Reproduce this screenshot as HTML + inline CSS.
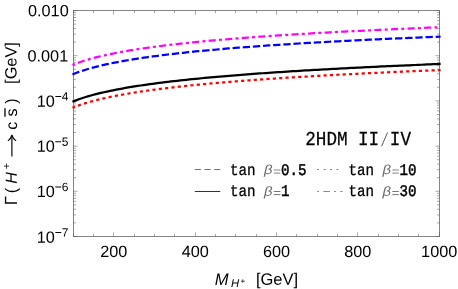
<!DOCTYPE html><html><head><meta charset="utf-8"><title>plot</title><style>html,body{margin:0;padding:0;background:#fff}svg{display:block;text-rendering:geometricPrecision;will-change:transform;transform:translateZ(0)}text{font-family:"Liberation Sans",sans-serif;fill:#000}.m{font-family:"Liberation Mono",monospace}.i{font-style:italic}</style></head><body>
<svg width="458" height="289" viewBox="0 0 458 289">
<rect width="458" height="289" fill="#fff"/>
<g stroke="#858585" stroke-width="1" fill="none">
<rect x="73.5" y="10.5" width="366.0" height="226.0"/>
<path stroke="#555" stroke-width="0.5" d="M73.50 236.5 v-2.6 M73.50 10.5 v2.6 M93.50 236.5 v-2.6 M93.50 10.5 v2.6 M113.50 236.5 v-4.2 M113.50 10.5 v4.2 M134.50 236.5 v-2.6 M134.50 10.5 v2.6 M154.50 236.5 v-2.6 M154.50 10.5 v2.6 M174.50 236.5 v-2.6 M174.50 10.5 v2.6 M195.50 236.5 v-4.2 M195.50 10.5 v4.2 M215.50 236.5 v-2.6 M215.50 10.5 v2.6 M235.50 236.5 v-2.6 M235.50 10.5 v2.6 M256.50 236.5 v-2.6 M256.50 10.5 v2.6 M276.50 236.5 v-4.2 M276.50 10.5 v4.2 M296.50 236.5 v-2.6 M296.50 10.5 v2.6 M317.50 236.5 v-2.6 M317.50 10.5 v2.6 M337.50 236.5 v-2.6 M337.50 10.5 v2.6 M357.50 236.5 v-4.2 M357.50 10.5 v4.2 M378.50 236.5 v-2.6 M378.50 10.5 v2.6 M398.50 236.5 v-2.6 M398.50 10.5 v2.6 M418.50 236.5 v-2.6 M418.50 10.5 v2.6 M439.50 236.5 v-4.2 M439.50 10.5 v4.2"/>
<path stroke="#555" stroke-width="0.5" d="M73.5 10.50 h4.0 M439.5 10.50 h-4.0 M73.5 42.09 h2.5 M439.5 42.09 h-2.5 M73.5 34.13 h2.5 M439.5 34.13 h-2.5 M73.5 28.49 h2.5 M439.5 28.49 h-2.5 M73.5 24.11 h2.5 M439.5 24.11 h-2.5 M73.5 20.53 h2.5 M439.5 20.53 h-2.5 M73.5 17.50 h2.5 M439.5 17.50 h-2.5 M73.5 14.88 h2.5 M439.5 14.88 h-2.5 M73.5 12.57 h2.5 M439.5 12.57 h-2.5 M73.5 55.70 h4.0 M439.5 55.70 h-4.0 M73.5 87.29 h2.5 M439.5 87.29 h-2.5 M73.5 79.33 h2.5 M439.5 79.33 h-2.5 M73.5 73.69 h2.5 M439.5 73.69 h-2.5 M73.5 69.31 h2.5 M439.5 69.31 h-2.5 M73.5 65.73 h2.5 M439.5 65.73 h-2.5 M73.5 62.70 h2.5 M439.5 62.70 h-2.5 M73.5 60.08 h2.5 M439.5 60.08 h-2.5 M73.5 57.77 h2.5 M439.5 57.77 h-2.5 M73.5 100.90 h4.0 M439.5 100.90 h-4.0 M73.5 132.49 h2.5 M439.5 132.49 h-2.5 M73.5 124.53 h2.5 M439.5 124.53 h-2.5 M73.5 118.89 h2.5 M439.5 118.89 h-2.5 M73.5 114.51 h2.5 M439.5 114.51 h-2.5 M73.5 110.93 h2.5 M439.5 110.93 h-2.5 M73.5 107.90 h2.5 M439.5 107.90 h-2.5 M73.5 105.28 h2.5 M439.5 105.28 h-2.5 M73.5 102.97 h2.5 M439.5 102.97 h-2.5 M73.5 146.10 h4.0 M439.5 146.10 h-4.0 M73.5 177.69 h2.5 M439.5 177.69 h-2.5 M73.5 169.73 h2.5 M439.5 169.73 h-2.5 M73.5 164.09 h2.5 M439.5 164.09 h-2.5 M73.5 159.71 h2.5 M439.5 159.71 h-2.5 M73.5 156.13 h2.5 M439.5 156.13 h-2.5 M73.5 153.10 h2.5 M439.5 153.10 h-2.5 M73.5 150.48 h2.5 M439.5 150.48 h-2.5 M73.5 148.17 h2.5 M439.5 148.17 h-2.5 M73.5 191.30 h4.0 M439.5 191.30 h-4.0 M73.5 222.89 h2.5 M439.5 222.89 h-2.5 M73.5 214.93 h2.5 M439.5 214.93 h-2.5 M73.5 209.29 h2.5 M439.5 209.29 h-2.5 M73.5 204.91 h2.5 M439.5 204.91 h-2.5 M73.5 201.33 h2.5 M439.5 201.33 h-2.5 M73.5 198.30 h2.5 M439.5 198.30 h-2.5 M73.5 195.68 h2.5 M439.5 195.68 h-2.5 M73.5 193.37 h2.5 M439.5 193.37 h-2.5 M73.5 236.50 h4.0 M439.5 236.50 h-4.0"/>
</g>
<g fill="none" stroke-width="2.25">
<path d="M73.50 64.55 L76.55 63.38 L79.60 62.29 L82.65 61.26 L85.70 60.30 L88.75 59.39 L91.80 58.53 L94.85 57.71 L97.90 56.94 L100.95 56.19 L104.00 55.48 L107.05 54.80 L110.10 54.15 L113.15 53.53 L116.20 52.92 L119.25 52.34 L122.30 51.78 L125.35 51.23 L128.40 50.71 L131.45 50.20 L134.50 49.71 L137.55 49.23 L140.60 48.76 L143.65 48.31 L146.70 47.87 L149.75 47.44 L152.80 47.03 L155.85 46.62 L158.90 46.22 L161.95 45.83 L165.00 45.46 L168.05 45.09 L171.10 44.73 L174.15 44.37 L177.20 44.03 L180.25 43.69 L183.30 43.36 L186.35 43.03 L189.40 42.71 L192.45 42.40 L195.50 42.09 L198.55 41.79 L201.60 41.50 L204.65 41.21 L207.70 40.92 L210.75 40.64 L213.80 40.37 L216.85 40.10 L219.90 39.83 L222.95 39.57 L226.00 39.31 L229.05 39.06 L232.10 38.81 L235.15 38.56 L238.20 38.32 L241.25 38.08 L244.30 37.84 L247.35 37.61 L250.40 37.38 L253.45 37.16 L256.50 36.93 L259.55 36.72 L262.60 36.50 L265.65 36.28 L268.70 36.07 L271.75 35.87 L274.80 35.66 L277.85 35.46 L280.90 35.26 L283.95 35.06 L287.00 34.86 L290.05 34.67 L293.10 34.48 L296.15 34.29 L299.20 34.10 L302.25 33.92 L305.30 33.74 L308.35 33.56 L311.40 33.38 L314.45 33.20 L317.50 33.03 L320.55 32.86 L323.60 32.68 L326.65 32.52 L329.70 32.35 L332.75 32.18 L335.80 32.02 L338.85 31.86 L341.90 31.70 L344.95 31.54 L348.00 31.38 L351.05 31.22 L354.10 31.07 L357.15 30.92 L360.20 30.76 L363.25 30.61 L366.30 30.46 L369.35 30.32 L372.40 30.17 L375.45 30.03 L378.50 29.88 L381.55 29.74 L384.60 29.60 L387.65 29.46 L390.70 29.32 L393.75 29.18 L396.80 29.05 L399.85 28.91 L402.90 28.78 L405.95 28.64 L409.00 28.51 L412.05 28.38 L415.10 28.25 L418.15 28.12 L421.20 28.00 L424.25 27.87 L427.30 27.74 L430.35 27.62 L433.40 27.49 L436.45 27.37 L439.50 27.25" stroke="#ff00ff" stroke-linecap="square" stroke-dasharray="0.8 5.45 4.9 5.457" stroke-dashoffset="0.4"/>
<path d="M73.50 73.95 L76.55 72.78 L79.60 71.69 L82.65 70.66 L85.70 69.70 L88.75 68.79 L91.80 67.93 L94.85 67.11 L97.90 66.34 L100.95 65.59 L104.00 64.88 L107.05 64.20 L110.10 63.55 L113.15 62.93 L116.20 62.32 L119.25 61.74 L122.30 61.18 L125.35 60.63 L128.40 60.11 L131.45 59.60 L134.50 59.11 L137.55 58.63 L140.60 58.16 L143.65 57.71 L146.70 57.27 L149.75 56.84 L152.80 56.43 L155.85 56.02 L158.90 55.62 L161.95 55.23 L165.00 54.86 L168.05 54.49 L171.10 54.13 L174.15 53.77 L177.20 53.43 L180.25 53.09 L183.30 52.76 L186.35 52.43 L189.40 52.11 L192.45 51.80 L195.50 51.49 L198.55 51.19 L201.60 50.90 L204.65 50.61 L207.70 50.32 L210.75 50.04 L213.80 49.77 L216.85 49.50 L219.90 49.23 L222.95 48.97 L226.00 48.71 L229.05 48.46 L232.10 48.21 L235.15 47.96 L238.20 47.72 L241.25 47.48 L244.30 47.24 L247.35 47.01 L250.40 46.78 L253.45 46.56 L256.50 46.33 L259.55 46.12 L262.60 45.90 L265.65 45.68 L268.70 45.47 L271.75 45.27 L274.80 45.06 L277.85 44.86 L280.90 44.66 L283.95 44.46 L287.00 44.26 L290.05 44.07 L293.10 43.88 L296.15 43.69 L299.20 43.50 L302.25 43.32 L305.30 43.14 L308.35 42.96 L311.40 42.78 L314.45 42.60 L317.50 42.43 L320.55 42.26 L323.60 42.08 L326.65 41.92 L329.70 41.75 L332.75 41.58 L335.80 41.42 L338.85 41.26 L341.90 41.10 L344.95 40.94 L348.00 40.78 L351.05 40.62 L354.10 40.47 L357.15 40.32 L360.20 40.16 L363.25 40.01 L366.30 39.86 L369.35 39.72 L372.40 39.57 L375.45 39.43 L378.50 39.28 L381.55 39.14 L384.60 39.00 L387.65 38.86 L390.70 38.72 L393.75 38.58 L396.80 38.45 L399.85 38.31 L402.90 38.18 L405.95 38.04 L409.00 37.91 L412.05 37.78 L415.10 37.65 L418.15 37.52 L421.20 37.40 L424.25 37.27 L427.30 37.14 L430.35 37.02 L433.40 36.89 L436.45 36.77 L439.50 36.65" stroke="#0000ff" stroke-linecap="square" stroke-dasharray="5.085 5.086"/>
<path d="M73.50 101.30 L76.55 100.13 L79.60 99.04 L82.65 98.01 L85.70 97.05 L88.75 96.14 L91.80 95.28 L94.85 94.46 L97.90 93.69 L100.95 92.94 L104.00 92.23 L107.05 91.55 L110.10 90.90 L113.15 90.28 L116.20 89.67 L119.25 89.09 L122.30 88.53 L125.35 87.98 L128.40 87.46 L131.45 86.95 L134.50 86.46 L137.55 85.98 L140.60 85.51 L143.65 85.06 L146.70 84.62 L149.75 84.19 L152.80 83.78 L155.85 83.37 L158.90 82.97 L161.95 82.58 L165.00 82.21 L168.05 81.84 L171.10 81.48 L174.15 81.12 L177.20 80.78 L180.25 80.44 L183.30 80.11 L186.35 79.78 L189.40 79.46 L192.45 79.15 L195.50 78.84 L198.55 78.54 L201.60 78.25 L204.65 77.96 L207.70 77.67 L210.75 77.39 L213.80 77.12 L216.85 76.85 L219.90 76.58 L222.95 76.32 L226.00 76.06 L229.05 75.81 L232.10 75.56 L235.15 75.31 L238.20 75.07 L241.25 74.83 L244.30 74.59 L247.35 74.36 L250.40 74.13 L253.45 73.91 L256.50 73.68 L259.55 73.47 L262.60 73.25 L265.65 73.03 L268.70 72.82 L271.75 72.62 L274.80 72.41 L277.85 72.21 L280.90 72.01 L283.95 71.81 L287.00 71.61 L290.05 71.42 L293.10 71.23 L296.15 71.04 L299.20 70.85 L302.25 70.67 L305.30 70.49 L308.35 70.31 L311.40 70.13 L314.45 69.95 L317.50 69.78 L320.55 69.61 L323.60 69.43 L326.65 69.27 L329.70 69.10 L332.75 68.93 L335.80 68.77 L338.85 68.61 L341.90 68.45 L344.95 68.29 L348.00 68.13 L351.05 67.97 L354.10 67.82 L357.15 67.67 L360.20 67.51 L363.25 67.36 L366.30 67.21 L369.35 67.07 L372.40 66.92 L375.45 66.78 L378.50 66.63 L381.55 66.49 L384.60 66.35 L387.65 66.21 L390.70 66.07 L393.75 65.93 L396.80 65.80 L399.85 65.66 L402.90 65.53 L405.95 65.39 L409.00 65.26 L412.05 65.13 L415.10 65.00 L418.15 64.87 L421.20 64.75 L424.25 64.62 L427.30 64.49 L430.35 64.37 L433.40 64.24 L436.45 64.12 L439.50 64.00" stroke="#000" stroke-linecap="square"/>
<path d="M73.50 107.40 L76.55 106.23 L79.60 105.14 L82.65 104.11 L85.70 103.15 L88.75 102.24 L91.80 101.38 L94.85 100.56 L97.90 99.79 L100.95 99.04 L104.00 98.33 L107.05 97.65 L110.10 97.00 L113.15 96.38 L116.20 95.77 L119.25 95.19 L122.30 94.63 L125.35 94.08 L128.40 93.56 L131.45 93.05 L134.50 92.56 L137.55 92.08 L140.60 91.61 L143.65 91.16 L146.70 90.72 L149.75 90.29 L152.80 89.88 L155.85 89.47 L158.90 89.07 L161.95 88.68 L165.00 88.31 L168.05 87.94 L171.10 87.58 L174.15 87.22 L177.20 86.88 L180.25 86.54 L183.30 86.21 L186.35 85.88 L189.40 85.56 L192.45 85.25 L195.50 84.94 L198.55 84.64 L201.60 84.35 L204.65 84.06 L207.70 83.77 L210.75 83.49 L213.80 83.22 L216.85 82.95 L219.90 82.68 L222.95 82.42 L226.00 82.16 L229.05 81.91 L232.10 81.66 L235.15 81.41 L238.20 81.17 L241.25 80.93 L244.30 80.69 L247.35 80.46 L250.40 80.23 L253.45 80.01 L256.50 79.78 L259.55 79.57 L262.60 79.35 L265.65 79.13 L268.70 78.92 L271.75 78.72 L274.80 78.51 L277.85 78.31 L280.90 78.11 L283.95 77.91 L287.00 77.71 L290.05 77.52 L293.10 77.33 L296.15 77.14 L299.20 76.95 L302.25 76.77 L305.30 76.59 L308.35 76.41 L311.40 76.23 L314.45 76.05 L317.50 75.88 L320.55 75.71 L323.60 75.53 L326.65 75.37 L329.70 75.20 L332.75 75.03 L335.80 74.87 L338.85 74.71 L341.90 74.55 L344.95 74.39 L348.00 74.23 L351.05 74.07 L354.10 73.92 L357.15 73.77 L360.20 73.61 L363.25 73.46 L366.30 73.31 L369.35 73.17 L372.40 73.02 L375.45 72.88 L378.50 72.73 L381.55 72.59 L384.60 72.45 L387.65 72.31 L390.70 72.17 L393.75 72.03 L396.80 71.90 L399.85 71.76 L402.90 71.63 L405.95 71.49 L409.00 71.36 L412.05 71.23 L415.10 71.10 L418.15 70.97 L421.20 70.85 L424.25 70.72 L427.30 70.59 L430.35 70.47 L433.40 70.34 L436.45 70.22 L439.50 70.10" stroke="#ff0000" stroke-linecap="square" stroke-dasharray="0.95 5.4097" stroke-dashoffset="0.475"/>
</g>
<g font-size="16.25" text-anchor="end">
<text x="68.7" y="16.30" transform="rotate(0.04 68.7 16.30)">0.010</text>
<text x="68.2" y="61.50" transform="rotate(0.04 68.7 61.50)">0.001</text>
<text x="68.4" y="106.70" transform="rotate(0.04 68.4 106.70)">10<tspan font-size="12" dy="-6.2">−4</tspan></text>
<text x="68.4" y="151.90" transform="rotate(0.04 68.4 151.90)">10<tspan font-size="12" dy="-6.2">−5</tspan></text>
<text x="68.4" y="197.10" transform="rotate(0.04 68.4 197.10)">10<tspan font-size="12" dy="-6.2">−6</tspan></text>
<text x="68.4" y="242.70" transform="rotate(0.04 68.4 242.70)">10<tspan font-size="12" dy="-6.2">−7</tspan></text>
</g>
<g font-size="16.25" text-anchor="middle">
<text x="113.87" y="257" transform="rotate(0.04 113.87 257)">200</text>
<text x="195.20" y="257" transform="rotate(0.04 195.20 257)">400</text>
<text x="276.53" y="257" transform="rotate(0.04 276.53 257)">600</text>
<text x="357.87" y="257" transform="rotate(0.04 357.87 257)">800</text>
<text x="439.20" y="257" transform="rotate(0.04 439.20 257)">1000</text>
</g>
<text class="i" font-size="16.6" x="214.8" y="285" transform="rotate(0.04 214.6 285)">M</text>
<text class="i" font-size="11.3" x="231" y="286.9" transform="rotate(0.04 231 286.8)">H</text>
<text font-size="8" x="240.6" y="283.8" transform="rotate(0.04 240.6 284.2)">+</text>
<text font-size="16.5" x="255.9" y="284.7" transform="rotate(0.04 255.9 285)">[GeV]</text>
<text font-size="17.6" transform="translate(17.10 204.90) rotate(-89.96) scale(0.93 1)">Γ</text>
<text font-size="16" transform="translate(16.40 193.20) rotate(-89.96)">(</text>
<text class="i" font-size="16" transform="translate(16.80 183.80) rotate(-89.96)">H</text>
<text font-size="10.6" transform="translate(9.90 169.20) rotate(-89.96)">+</text>
<path d="M11.9 156.6 V135.8" stroke="#000" stroke-width="1.15" fill="none"/>
<path d="M7.9 140.9 Q11 138.6 11.9 135 Q12.8 138.6 16.1 140.9" stroke="#000" stroke-width="1.05" fill="none"/>
<text font-size="16" transform="translate(17.00 129.70) rotate(-89.96)">c</text>
<text font-size="16" transform="translate(17.00 116.40) rotate(-89.96)">s</text>
<path d="M5 116.8 V108.3" stroke="#000" stroke-width="1.3" fill="none"/>
<text font-size="16" transform="translate(16.40 103.80) rotate(-89.96)">)</text>
<text font-size="16.35" transform="translate(16.50 83.90) rotate(-89.96)">[GeV]</text>
<text class="m" font-size="19.8" x="305.2" y="144.8" textLength="42.4" lengthAdjust="spacingAndGlyphs" stroke="#000" stroke-width="0.25">2HDM</text>
<text class="m" font-size="19.8" x="358.0" y="144.8" textLength="21.2" lengthAdjust="spacingAndGlyphs" stroke="#000" stroke-width="0.25">II</text>
<text class="m" font-size="19.8" x="389.8" y="144.8" textLength="21.2" lengthAdjust="spacingAndGlyphs" stroke="#000" stroke-width="0.25">IV</text>
<path d="M381.6 146.2 L387.6 132.4" stroke="#444" stroke-width="0.9" fill="none"/>
<text class="m" font-size="16.2" x="230.0" y="174.6" textLength="25.5" lengthAdjust="spacingAndGlyphs" stroke="#000" stroke-width="0.3">tan</text>
<text font-family="Liberation Serif" font-style="italic" font-size="13.2" transform="translate(263.9 174.0) rotate(0.04) scale(1.13 1)" style="fill:#6c6c6c">β</text>
<path d="M273.8 170.0 h6.6 M273.8 173.1 h6.6" stroke="#777" stroke-width="0.9" fill="none"/>
<text class="m" font-size="16.2" x="281.0" y="174.6" textLength="25.5" lengthAdjust="spacingAndGlyphs" stroke="#000" stroke-width="0.5">0.5</text>
<text class="m" font-size="16.2" x="230.0" y="196.4" textLength="25.5" lengthAdjust="spacingAndGlyphs" stroke="#000" stroke-width="0.3">tan</text>
<text font-family="Liberation Serif" font-style="italic" font-size="13.2" transform="translate(263.9 195.8) rotate(0.04) scale(1.13 1)" style="fill:#6c6c6c">β</text>
<path d="M273.8 191.5 h6.6 M273.8 194.6 h6.6" stroke="#666" stroke-width="0.9" fill="none"/>
<text class="m" font-size="16.2" x="281.0" y="196.4" textLength="8.5" lengthAdjust="spacingAndGlyphs" stroke="#000" stroke-width="0.5">1</text>
<text class="m" font-size="16.2" x="348.5" y="174.6" textLength="25.5" lengthAdjust="spacingAndGlyphs" stroke="#000" stroke-width="0.3">tan</text>
<text font-family="Liberation Serif" font-style="italic" font-size="13.2" transform="translate(382.4 174.0) rotate(0.04) scale(1.13 1)" style="fill:#6c6c6c">β</text>
<path d="M392.3 170.0 h6.6 M392.3 173.1 h6.6" stroke="#777" stroke-width="0.9" fill="none"/>
<text class="m" font-size="16.2" x="399.5" y="174.6" textLength="17.0" lengthAdjust="spacingAndGlyphs" stroke="#000" stroke-width="0.5">10</text>
<text class="m" font-size="16.2" x="348.5" y="196.4" textLength="25.5" lengthAdjust="spacingAndGlyphs" stroke="#000" stroke-width="0.3">tan</text>
<text font-family="Liberation Serif" font-style="italic" font-size="13.2" transform="translate(382.4 195.8) rotate(0.04) scale(1.13 1)" style="fill:#6c6c6c">β</text>
<path d="M392.3 191.5 h6.6 M392.3 194.6 h6.6" stroke="#666" stroke-width="0.9" fill="none"/>
<text class="m" font-size="16.2" x="399.5" y="196.4" textLength="17.0" lengthAdjust="spacingAndGlyphs" stroke="#000" stroke-width="0.5">30</text>
<g fill="none" stroke-width="1">
<path d="M194.8 169.5 H220.3" stroke="#6060ff" stroke-width="1.15" stroke-dasharray="6.1 3.6"/>
<path d="M194.8 191.5 H220.3" stroke="#333"/>
<path d="M317.2 169.5 H338.6" stroke="#ff4444" stroke-width="1.2" stroke-dasharray="1.9 4.55"/>
<path d="M317.2 191.5 H342.6" stroke="#ff33ff" stroke-width="1.2" stroke-dasharray="1.8 4.4 6.5 4.2"/>
</g>
</svg></body></html>
